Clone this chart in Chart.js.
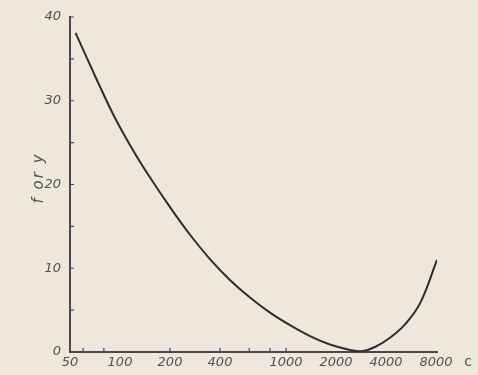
<!DOCTYPE html>
<html>
<head>
<meta charset="utf-8">
<script src="https://cdn.jsdelivr.net/npm/chart.js"></script>
<style>
  html, body { margin: 0; padding: 0; background: #eee8dc; }
  #chart { display: block; }
</style>
</head>
<body>
<canvas id="chart" width="478" height="375"></canvas>
<script>
// ===== データ =====
const cValues = [54, 71, 93, 123, 152, 200, 264, 348, 459, 606, 800, 1056, 1393, 1838, 2425, 2864, 3430, 4222, 5200, 6400, 8100];
const fValues = [38.1, 32.9, 28.0, 23.7, 20.8, 17.3, 14.0, 11.1, 8.6, 6.5, 4.7, 3.2, 1.9, 0.9, 0.25, 0.1, 0.6, 1.7, 3.3, 5.8, 11.0];
const xTickValues = [50, 100, 200, 400, 1000, 2000, 4000, 8000];
const xMinorTicks = [60, 80, 200, 400, 600, 800, 1000];
const yMinorTicks = [5, 10, 15, 20, 25, 30, 35, 40];

(function () {
    'use strict';

    const axisColor = '#5b3d55';
    const textColor = '#555050';
    const lineColor = '#2f2d2d';
    const labelFont = { family: 'DejaVu Sans', size: 13, style: 'italic' };

    // 小さい目盛りと軸タイトルを描く
    const marksPlugin = {
        id: 'marks',
        afterDraw(chart) {
            const { ctx, scales: { x, y } } = chart;
            ctx.save();
            ctx.strokeStyle = axisColor;
            ctx.lineWidth = 1.2;
            ctx.beginPath();
            for (const v of yMinorTicks) {
                const py = y.getPixelForValue(v);
                ctx.moveTo(x.left, py);
                ctx.lineTo(x.left + 4, py);
            }
            for (const v of xMinorTicks) {
                const px = x.getPixelForValue(v);
                ctx.moveTo(px, y.bottom);
                ctx.lineTo(px, y.bottom - 4);
            }
            ctx.stroke();

            ctx.fillStyle = textColor;
            ctx.textAlign = 'center';
            ctx.textBaseline = 'middle';
            ctx.font = '14px "DejaVu Sans"';
            ctx.fillText('c', x.right + 31, y.bottom + 10);

            // 縦軸タイトル
            ctx.font = 'italic 15px "DejaVu Sans"';
            ctx.letterSpacing = '2px';
            ctx.translate(39, 178);
            ctx.rotate(-Math.PI / 2);
            ctx.fillText('f or y', 0, 0);
            ctx.restore();
        }
    };

    const points = cValues.map((c, i) => ({ x: c, y: fValues[i] }));

    new Chart(document.getElementById('chart').getContext('2d'), {
        type: 'line',
        data: {
            datasets: [{
                data: points,
                borderColor: lineColor,
                borderWidth: 2,
                pointRadius: 0,
                fill: false,
                tension: 0.4
            }]
        },
        options: {
            responsive: false,
            animation: false,
            layout: { padding: { top: 17, right: 41, left: 0, bottom: 0 } },
            plugins: {
                legend: { display: false },
                tooltip: { enabled: false }
            },
            scales: {
                x: {
                    type: 'logarithmic',
                    min: 50,
                    max: 8100,
                    afterBuildTicks: (s) => { s.ticks = xTickValues.map(v => ({ value: v })); },
                    afterFit: (s) => { s.height = 23; },
                    grid: { display: false, drawTicks: false },
                    border: { display: true, color: axisColor, width: 2 },
                    ticks: {
                        color: textColor,
                        font: labelFont,
                        padding: 3,
                        maxRotation: 0,
                        autoSkip: false,
                        callback: (v) => String(v)
                    }
                },
                y: {
                    min: 0,
                    max: 40,
                    afterFit: (s) => { s.width = 70; },
                    grid: { display: false, drawTicks: false },
                    border: { display: true, color: axisColor, width: 2 },
                    ticks: {
                        stepSize: 10,
                        color: textColor,
                        font: labelFont,
                        padding: 9
                    }
                }
            }
        },
        plugins: [marksPlugin]
    });
})();
</script>
</body>
</html>
